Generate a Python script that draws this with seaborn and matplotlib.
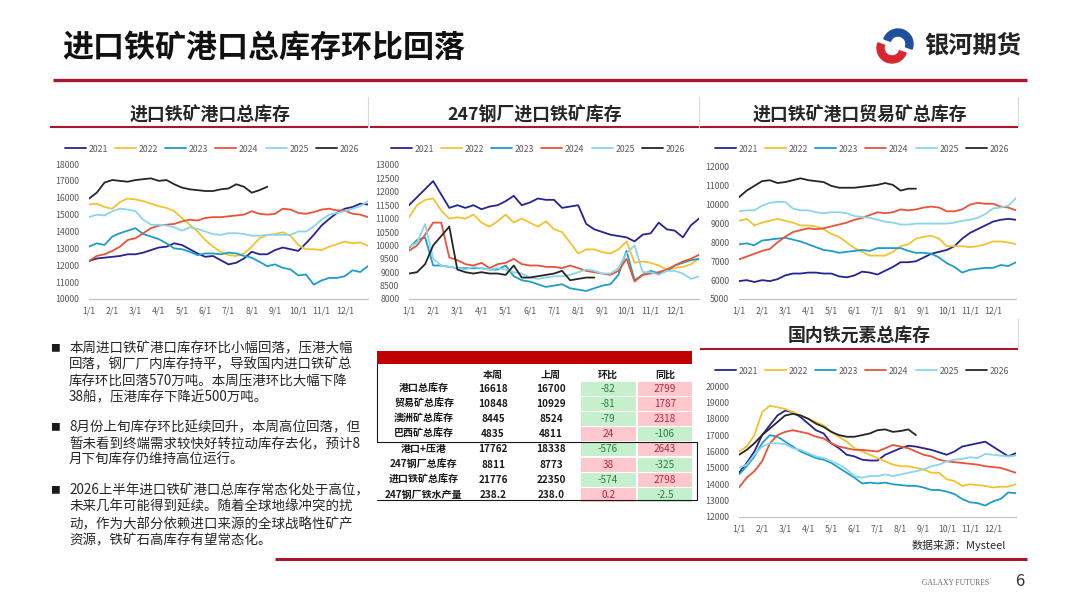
import matplotlib.pyplot as plt
import matplotlib.patches as mpatches
import pandas as pd
import seaborn as sns

W, H = 1080, 608

years = ['2021', '2022', '2023', '2024', '2025', '2026']
year_colors = ['#262490', '#F3C230', '#1E9DC9', '#E8533A', '#8BD5EB', '#262626']

# sampling grid: 1st, 11th, 21st of each month, plus year end
grid_dates = [f'{m}/{d}' for m in range(1, 13) for d in (1, 11, 21)] + ['12/31']
month_ticks = [f'{m}/1' for m in range(1, 13)]

# 进口铁矿港口总库存
port_total = {
    '2021': [12250, 12400, 12450, 12500, 12550, 12650, 12650, 12750, 12900, 13050, 13100, 13300,
             13200, 12950, 12700, 12500, 12550, 12300, 12050, 12150, 12400, 12800, 12650, 12650,
             12900, 13050, 12950, 12850, 13300, 13800, 14350, 14750, 15100, 15350, 15450, 15650, 15600],
    '2022': [15600, 15650, 15450, 15350, 15750, 15950, 15900, 15800, 15650, 15500, 15400, 15200,
             14800, 14400, 14000, 13500, 13100, 12800, 12600, 12550, 12700, 13100, 13600, 13800,
             13850, 13950, 13750, 13200, 12950, 12950, 12900, 13100, 13250, 13400, 13300, 13350, 13150],
    '2023': [13100, 13300, 13200, 13700, 13900, 14050, 14200, 13850, 13700, 13550, 13300, 13000,
             12950, 12800, 12600, 12700, 12700, 12650, 12750, 12700, 12550, 12450, 12200, 11950,
             12050, 11850, 11750, 11400, 11450, 10850, 11100, 11250, 11250, 11350, 11700, 11600, 11950],
    '2024': [12250, 12550, 12650, 12850, 13100, 13500, 13600, 13900, 14200, 14350, 14400, 14450,
             14600, 14700, 14650, 14800, 14850, 14850, 14900, 14950, 15000, 15200, 15050, 15000,
             15050, 15350, 15300, 15100, 15050, 15150, 15300, 15350, 15250, 15250, 15050, 15000, 14850],
    '2025': [14850, 15000, 14950, 15200, 15350, 15300, 15200, 14700, 14400, 14400, 14350, 14250,
             14050, 14250, 14150, 14000, 13850, 13800, 13900, 13900, 13850, 13750, 13750, 13800,
             13800, 13800, 13800, 14000, 14000, 14300, 14700, 15000, 15100, 15200, 15350, 15500, 15800],
    '2026': [15950, 16300, 16900, 17050, 17000, 16950, 17050, 17100, 17150, 17000, 17050, 16800,
             16600, 16500, 16450, 16400, 16400, 16500, 16550, 16800, 16650, 16300, 16450, 16650],
}

# 247钢厂进口铁矿库存
mill_stock = {
    '2021': [11500, 11800, 12100, 12400, 11900, 11400, 11500, 11400, 11500, 11350, 11450, 11500,
             11650, 11850, 11500, 11600, 11750, 11700, 11700, 11400, 11450, 11500, 10800, 10600,
             10500, 10400, 10350, 10300, 10150, 10400, 10450, 10850, 10600, 10550, 10300, 10750, 11000],
    '2022': [11050, 11500, 11700, 11750, 11300, 11000, 11050, 11000, 11150, 10850, 10700, 10900,
             11150, 10850, 11000, 10850, 10700, 10900, 10600, 10500, 10100, 9700, 9850, 9850,
             9750, 9700, 9850, 10150, 9350, 9400, 9350, 9250, 9100, 9150, 9200, 9300, 9500],
    '2023': [9900, 10200, 10300, 9250, 9250, 9200, 9150, 9150, 9150, 9150, 9100, 9100,
             9250, 8850, 8700, 8650, 8550, 8450, 8500, 8550, 8400, 8350, 8300, 8400,
             8500, 8550, 8900, 9800, 8700, 8900, 9050, 8950, 9050, 9250, 9350, 9450, 9500],
    '2024': [9800, 10000, 10400, 10850, 10850, 9550, 9450, 9300, 9250, 9350, 9150, 9300,
             9350, 9500, 9300, 9250, 9250, 9200, 9200, 9150, 9250, 9150, 9050, 9000,
             8950, 8900, 9050, 9500, 8650, 8900, 8950, 9000, 9100, 9250, 9400, 9500, 9650],
    '2025': [9950, 10100, 10800, 9500, 9250, 9200, 9150, 9100, 9200, 9150, 9100, 9150,
             9100, 9000, 8950, 8800, 8750, 8800, 8850, 8850, 8900, 9000, 9100, 9050,
             8950, 8950, 9150, 9700, 10000, 9000, 9000, 8900, 9050, 9050, 8950, 8750, 8850],
    '2026': [8950, 9000, 9300, 10000, 10350, 10700, 9100, 9000, 8950, 9000, 8950, 8950,
             8900, 9250, 8800, 8800, 8850, 8900, 8950, 9050, 8700, 8750, 8800, 8800],
}

# 进口铁矿港口贸易矿总库存
trade_ore = {
    '2021': [5950, 6000, 5900, 6000, 5950, 6050, 6250, 6350, 6350, 6400, 6400, 6350,
             6350, 6200, 6150, 6250, 6450, 6400, 6300, 6500, 6700, 6950, 6950, 7000,
             7200, 7400, 7500, 7600, 7800, 8200, 8500, 8700, 8900, 9100, 9200, 9250, 9200],
    '2022': [9150, 9250, 8900, 9050, 9150, 9250, 9150, 9050, 8900, 8900, 8850, 8700,
             8450, 8300, 8000, 7700, 7500, 7300, 7300, 7300, 7500, 7800, 7900, 8200,
             8300, 8350, 8200, 7800, 7800, 7800, 7750, 7800, 7900, 8050, 8050, 8000, 7900],
    '2023': [7900, 7950, 7850, 8100, 8150, 8200, 8250, 8150, 8050, 7900, 7750, 7600,
             7550, 7450, 7500, 7550, 7600, 7550, 7700, 7700, 7700, 7700, 7550, 7450,
             7450, 7400, 7200, 6900, 6700, 6400, 6550, 6600, 6650, 6650, 6800, 6750, 6950],
    '2024': [7100, 7250, 7400, 7550, 7650, 8000, 8300, 8550, 8650, 8750, 8700, 8750,
             8850, 8950, 9050, 9200, 9300, 9450, 9600, 9550, 9600, 9750, 9700, 9750,
             9850, 9900, 9850, 9650, 9650, 9750, 10000, 10100, 10050, 10050, 9900, 9850, 9700],
    '2025': [9650, 9700, 9700, 9950, 10100, 10150, 10150, 9800, 9700, 9700, 9600, 9550,
             9600, 9600, 9550, 9400, 9350, 9300, 9200, 9100, 9050, 8950, 8950, 9000,
             9000, 9000, 9000, 9000, 9050, 9150, 9200, 9300, 9500, 9800, 9850, 9950, 10350],
    '2026': [10400, 10750, 11000, 11250, 11300, 11150, 11200, 11300, 11400, 11300, 11250, 11200,
             11000, 10900, 10900, 10900, 10950, 11000, 11050, 11150, 11050, 10750, 10850, 10850],
}

# 国内铁元素总库存
iron_element = {
    '2021': [14700, 15300, 16000, 17000, 17600, 18200, 18500, 18400, 18100, 17700, 17300, 17100,
             16500, 16200, 15800, 15700, 15500, 15450, 15450, 15800, 16000, 16200, 16350, 16300,
             16200, 16100, 15950, 15800, 16000, 16300, 16400, 16500, 16600, 16300, 16000, 15700, 15900],
    '2022': [16000, 16300, 17000, 18400, 18800, 18700, 18600, 18400, 18200, 18000, 17800, 17600,
             17200, 16900, 16600, 16200, 16000, 15800, 15600, 15400, 15200, 15100, 15100, 15000,
             14900, 14700, 14700, 14300, 14200, 13900, 14000, 13950, 13900, 13800, 13850, 13850, 14000],
    '2023': [14600, 15100, 15700, 16500, 17000, 16900, 16600, 16300, 16000, 15800, 15600, 15500,
             15300, 15000, 14700, 14400, 14050, 14100, 14050, 14100, 14000, 13950, 13900, 13900,
             13800, 13650, 13650, 13550, 13400, 13100, 12900, 12850, 12700, 12950, 13100, 13500, 13450],
    '2024': [13800, 14400, 14800, 15400, 16500, 17000, 17200, 17300, 17200, 17100, 16900, 16800,
             16500, 16300, 16200, 16100, 16100, 16050, 16000, 16200, 16400, 16300, 16200, 16000,
             15800, 15700, 15500, 15400, 15350, 15300, 15250, 15200, 15100, 15050, 15000, 14850, 14700],
    '2025': [15000, 15200, 15800, 16300, 16500, 16500, 16450, 16200, 16100, 15900, 15700, 15600,
             15400, 15200, 14900, 14500, 14400, 14500, 14500, 14600, 14500, 14600, 14700, 14800,
             14900, 15100, 15200, 15400, 15500, 15550, 15650, 15600, 15850, 15800, 15750, 15700, 15750],
    '2026': [15800, 16100, 16500, 17000, 17400, 17800, 18200, 18300, 18200, 18000, 17700, 17500,
             17200, 17000, 16900, 16900, 17000, 17100, 17300, 17350, 17200, 17250, 17350, 17000],
}

# weekly summary table
table_rows = ['港口总库存', '贸易矿总库存', '澳洲矿总库存', '巴西矿总库存',
              '港口+压港', '247钢厂总库存', '进口铁矿总库存', '247钢厂铁水产量']
this_week = ['16618', '10848', '8445', '4835', '17762', '8811', '21776', '238.2']
last_week = ['16700', '10929', '8524', '4811', '18338', '8773', '22350', '238.0']
wow_change = ['-82', '-81', '-79', '24', '-576', '38', '-574', '0.2']
yoy_change = ['2799', '1787', '2318', '-106', '2643', '-325', '2798', '-2.5']

bullets = [
    ['本周进口铁矿港口库存环比小幅回落，压港大幅',
     '回落，钢厂厂内库存持平，导致国内进口铁矿总',
     '库存环比回落570万吨。本周压港环比大幅下降',
     '38船，压港库存下降近500万吨。'],
    ['8月份上旬库存环比延续回升，本周高位回落，但',
     '暂未看到终端需求较快好转拉动库存去化，预计8',
     '月下旬库存仍维持高位运行。'],
    ['2026上半年进口铁矿港口总库存常态化处于高位，',
     '未来几年可能得到延续。随着全球地缘冲突的扰',
     '动，作为大部分依赖进口来源的全球战略性矿产',
     '资源，铁矿石高库存有望常态化。'],
]

sns.set_theme(style='white')
plt.rcParams['font.family'] = ['Noto Sans CJK SC', 'DejaVu Sans']

RED = '#A8172B'
fig = plt.figure(figsize=(10.8, 6.08), dpi=100)
fig.patch.set_facecolor('white')

# overlay in pixel coordinates for titles, text, table
ov = fig.add_axes([0, 0, 1, 1])
ov.set_xlim(0, W)
ov.set_ylim(H, 0)
ov.axis('off')


def date_pos(s):
    m, d = s.split('/')
    return int(m) - 1 + (int(d) - 1) / 30


def draw_panel(box, series, ylim, yticks, legend_xy, title, title_y, title_x, line_x):
    l, t, r, b = box
    ax = fig.add_axes([l / W, 1 - b / H, (r - l) / W, (b - t) / H])
    ax.patch.set_alpha(0)
    rows = []
    for yr in years:
        for d, v in zip(grid_dates, series[yr]):
            rows.append((date_pos(d), v, yr))
    df = pd.DataFrame(rows, columns=['pos', 'value', 'year'])
    sns.lineplot(data=df, x='pos', y='value', hue='year', hue_order=years,
                 palette=dict(zip(years, year_colors)), estimator=None, sort=False,
                 linewidth=1.3, ax=ax)
    handles, labels = ax.get_legend_handles_labels()
    ax.get_legend().remove()
    fig.legend(handles, labels, loc='center',
               bbox_to_anchor=(legend_xy[0] / W, 1 - legend_xy[1] / H),
               ncol=6, frameon=False, fontsize=6.3, handlelength=2.4,
               handletextpad=0.3, columnspacing=0.8, labelcolor='#595959')
    ax.set_xlim(0, 12)
    ax.set_ylim(*ylim)
    ax.set_xticks(range(12))
    ax.set_xticklabels(month_ticks)
    ax.set_yticks(yticks)
    ax.set_yticklabels([str(v) for v in yticks])
    ax.set_xlabel('')
    ax.set_ylabel('')
    for s in ('left', 'right', 'top'):
        ax.spines[s].set_visible(False)
    ax.spines['bottom'].set_color('#bfbfbf')
    ax.spines['bottom'].set_linewidth(0.8)
    ax.tick_params(axis='x', length=2.5, width=0.6, color='#bfbfbf',
                   labelsize=6.3, labelcolor='#595959', pad=3)
    ax.tick_params(axis='y', length=0, labelsize=6.3, labelcolor='#595959', pad=7)
    # panel heading with red rule
    ov.text(title_x, title_y, title, ha='center', va='center', fontsize=12.9,
            fontweight='bold', color='#262626')
    ov.plot(line_x, [title_y + 12] * 2, color=RED, lw=1.5, solid_capstyle='butt')
    ov.plot([line_x[1]] * 2, [title_y - 18, title_y + 11], color='#d9d9d9', lw=0.8)
    return ax


draw_panel((89, 164, 368, 299), port_total, (10000, 18000), range(10000, 18001, 1000),
           (212, 149), '进口铁矿港口总库存', 115, 210, [50, 368])
draw_panel((409, 165, 699, 299), mill_stock, (8000, 13000), range(8000, 13001, 500),
           (538, 149), '247钢厂进口铁矿库存', 115, 535, [370, 699])
draw_panel((739, 167, 1016, 299), trade_ore, (5000, 12000), range(5000, 12001, 1000),
           (862, 149), '进口铁矿港口贸易矿总库存', 115, 860, [700, 1018])
draw_panel((739, 386, 1016, 517), iron_element, (12000, 20000), range(12000, 20001, 1000),
           (862, 371), '国内铁元素总库存', 337, 859, [700, 1018])

# header
ov.text(62, 48, '进口铁矿港口总库存环比回落', ha='left', va='center', fontsize=22.3,
        fontweight='bold', color='#111111')
ov.plot([53, 1027], [80, 80], color=RED, lw=2.4, solid_capstyle='butt')
ov.add_patch(mpatches.Wedge((892, 48), 15, 20, 200, width=7, color='#D7282F'))
ov.add_patch(mpatches.Wedge((898, 44), 15, -160, 20, width=7, color='#1F4E9E'))
ov.text(924, 45, '银河期货', ha='left', va='center', fontsize=17.5,
        fontweight='bold', color='#222222')

# commentary bullets
line_y = [[348, 364, 381, 397], [427, 444, 460], [490, 507, 524, 540]]
for para, ys in zip(bullets, line_y):
    ov.text(55, ys[0], '■', ha='center', va='center', fontsize=7, color='#1a1a1a')
    for txt, y in zip(para, ys):
        ov.text(69, y, txt, ha='left', va='center', fontsize=9.7, color='#262626')

# table
ov.add_patch(mpatches.Rectangle((377, 351), 315, 13, color='#C00000', lw=0))
col_x = {'label': 424, 'this': 493, 'last': 551, 'wow': 608, 'yoy': 665}
head_y = 375
for key, name in (('this', '本周'), ('last', '上周'), ('wow', '环比'), ('yoy', '同比')):
    ov.text(col_x[key], head_y, name, ha='center', va='center', fontsize=7.2,
            fontweight='bold', color='#1a1a1a')
for i, name in enumerate(table_rows):
    y = 389 + i * 15.1
    ov.text(col_x['label'], y, name, ha='center', va='center', fontsize=7.2,
            fontweight='bold', color='#1a1a1a')
    ov.text(col_x['this'], y, this_week[i], ha='center', va='center', fontsize=7.2,
            fontweight='bold', color='#1a1a1a')
    ov.text(col_x['last'], y, last_week[i], ha='center', va='center', fontsize=7.2,
            fontweight='bold', color='#1a1a1a')
    for val, x0, x1, cx in ((wow_change[i], 581, 636, col_x['wow']),
                            (yoy_change[i], 638, 692, col_x['yoy'])):
        neg = val.startswith('-')
        fill = '#C6EFCE' if neg else '#FFC7CE'
        tcol = '#2E7D3E' if neg else '#B02A3A'
        ov.add_patch(mpatches.Rectangle((x0, y - 7), x1 - x0, 14, color=fill, lw=0))
        ov.text(cx, y, val, ha='center', va='center', fontsize=7.2, color=tcol)
ov.plot([377, 377], [364, 442], color='#1a1a1a', lw=0.8)
ov.plot([377, 697], [442, 442], color='#1a1a1a', lw=0.8)
ov.plot([697, 697], [442, 500], color='#1a1a1a', lw=0.8)
ov.plot([377, 697], [500, 500], color='#1a1a1a', lw=0.8)

# footer
ov.text(1006, 545, '数据来源：Mysteel', ha='right', va='center', fontsize=7.9, color='#262626')
ov.plot([275, 1027], [559, 559], color=RED, lw=2.2, solid_capstyle='butt')
ov.text(956, 583, 'GALAXY FUTURES', ha='center', va='center', fontsize=5.5,
        family='Liberation Serif', color='#666666')
ov.text(1020, 581, '6', ha='center', va='center', fontsize=12, color='#333333')

fig.savefig('out.png', dpi=100)
